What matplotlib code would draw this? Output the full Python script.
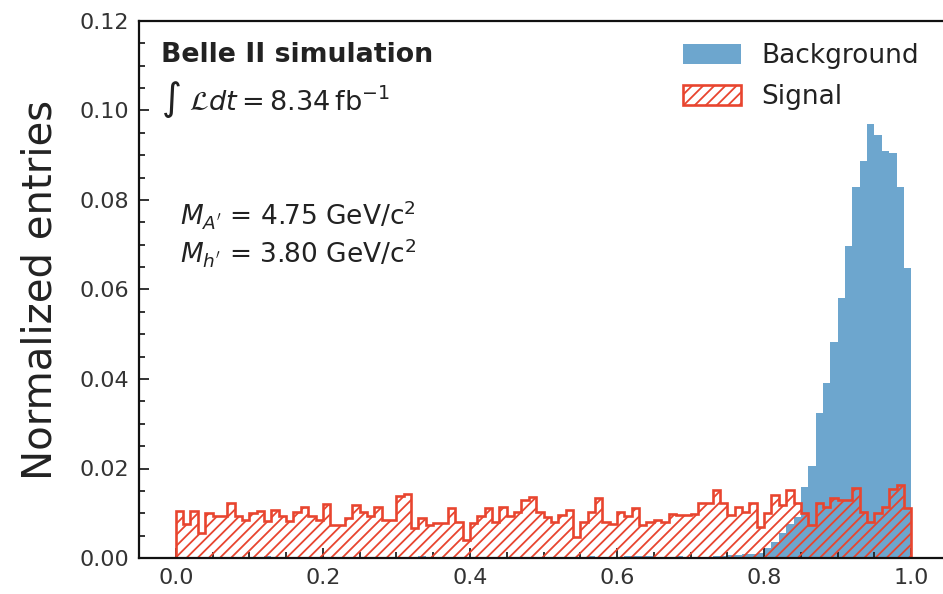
import numpy as np
import matplotlib
matplotlib.use("Agg")
import matplotlib.pyplot as plt
from matplotlib.ticker import FormatStrFormatter, MultipleLocator

# ---- data (100 bins on [0, 1], normalized entries) ----
bin_edges = np.linspace(0.0, 1.0, 101)
bin_centers = 0.5 * (bin_edges[:-1] + bin_edges[1:])

signal = [
    0.0106, 0.0076, 0.0106, 0.0055, 0.0101, 0.0094, 0.0094, 0.0122, 0.0093, 0.0085,
    0.0101, 0.0106, 0.0082, 0.0107, 0.0093, 0.0082, 0.0103, 0.0113, 0.0093, 0.0085,
    0.0120, 0.0074, 0.0074, 0.0089, 0.0118, 0.0103, 0.0093, 0.0113, 0.0085, 0.0085,
    0.0138, 0.0143, 0.0066, 0.0089, 0.0074, 0.0079, 0.0079, 0.0111, 0.0081, 0.0040,
    0.0079, 0.0094, 0.0111, 0.0081, 0.0113, 0.0094, 0.0103, 0.0129, 0.0137, 0.0103,
    0.0092, 0.0081, 0.0096, 0.0107, 0.0048, 0.0081, 0.0103, 0.0133, 0.0081, 0.0077,
    0.0103, 0.0094, 0.0111, 0.0074, 0.0081, 0.0085, 0.0080, 0.0099, 0.0096, 0.0096,
    0.0099, 0.0122, 0.0122, 0.0151, 0.0122, 0.0096, 0.0114, 0.0103, 0.0122, 0.0070,
    0.0100, 0.0141, 0.0118, 0.0153, 0.0122, 0.0100, 0.0074, 0.0122, 0.0113, 0.0133,
    0.0129, 0.0129, 0.0157, 0.0103, 0.0081, 0.0100, 0.0114, 0.0155, 0.0163, 0.0111,
]

background = [
    0.0, 0.0, 0.0, 0.0, 0.0, 0.0, 0.0, 0.0, 0.0, 0.0,
    0.0, 0.0, 0.0005, 0.0, 0.0, 0.0, 0.0, 0.0, 0.0, 0.0,
    0.0, 0.0, 0.0, 0.0, 0.0, 0.0, 0.0, 0.0, 0.0, 0.0,
    0.0, 0.0, 0.0, 0.0005, 0.0, 0.0, 0.0, 0.0, 0.0, 0.0,
    0.0, 0.0, 0.0, 0.0, 0.0, 0.0, 0.0, 0.0, 0.0, 0.0,
    0.0, 0.0, 0.0, 0.0, 0.0, 0.0, 0.0004, 0.0, 0.0, 0.0,
    0.0, 0.0004, 0.0004, 0.0004, 0.0004, 0.0, 0.0, 0.0, 0.0004, 0.0,
    0.0, 0.0, 0.0, 0.0005, 0.0005, 0.0006, 0.0007, 0.0008, 0.0009, 0.0011,
    0.0022, 0.0035, 0.0055, 0.0075, 0.0092, 0.0159, 0.0205, 0.0323, 0.0391, 0.0483,
    0.0581, 0.0698, 0.0830, 0.0888, 0.0970, 0.0945, 0.0910, 0.0904, 0.0828, 0.0648,
]

x_ticks = [0.0, 0.2, 0.4, 0.6, 0.8, 1.0]
y_ticks = [0.00, 0.02, 0.04, 0.06, 0.08, 0.10, 0.12]

BLUE = "#1f77b4"
RED = "#e8452f"

plt.rcParams["hatch.linewidth"] = 1.3
plt.rcParams["hatch.color"] = RED

fig = plt.figure(figsize=(9.43, 5.94), dpi=100)
ax = fig.add_axes([139 / 943, 36 / 594, 809 / 943, 537 / 594])

ax.hist(bin_centers, bins=bin_edges, weights=background, histtype="stepfilled",
        color=BLUE, alpha=0.65, label="Background")
ax.hist(bin_centers, bins=bin_edges, weights=signal, histtype="step",
        edgecolor=RED, linewidth=1.9, hatch="///", label="Signal")

ax.set_xlim(-0.05, 1.05)
ax.set_ylim(0.0, 0.12)
ax.set_xticks(x_ticks)
ax.set_yticks(y_ticks)
ax.yaxis.set_major_formatter(FormatStrFormatter("%.2f"))
ax.xaxis.set_minor_locator(MultipleLocator(0.05))
ax.yaxis.set_minor_locator(MultipleLocator(0.005))
ax.tick_params(which="both", direction="in", width=1.3, labelsize=16, pad=7,
               colors="#222222", labelcolor="#333333")
ax.tick_params(which="major", length=7)
ax.tick_params(which="minor", length=4.5)
for s in ax.spines.values():
    s.set_linewidth(1.6)
    s.set_color("#111111")

ax.set_ylabel("Normalized entries", fontsize=29, color="#222222", labelpad=14)

ax.text(0.027, 0.937, "Belle II simulation", transform=ax.transAxes,
        fontsize=19.3, fontweight="bold", color="#222222", va="center", ha="left")
ax.text(0.027, 0.853, r"$\int\ \mathcal{L}dt = 8.34\,\mathrm{fb}^{-1}$",
        transform=ax.transAxes, fontsize=19.5, color="#222222", va="center", ha="left")
ax.text(0.051, 0.639, r"$M_{A^{\prime}}$ = 4.75 GeV/c$^2$", transform=ax.transAxes,
        fontsize=19, color="#222222", va="center", ha="left")
ax.text(0.051, 0.568, r"$M_{h^{\prime}}$ = 3.80 GeV/c$^2$", transform=ax.transAxes,
        fontsize=19, color="#222222", va="center", ha="left")

ax.legend(loc="upper right", fontsize=19, frameon=False, handlelength=2.2,
          handleheight=0.8, labelspacing=0.55, handletextpad=0.75,
          borderaxespad=0.55, borderpad=0.3, labelcolor="#222222",
          bbox_to_anchor=(1 - 7 / 809, 1.0))

fig.savefig("out.png", dpi=100)
